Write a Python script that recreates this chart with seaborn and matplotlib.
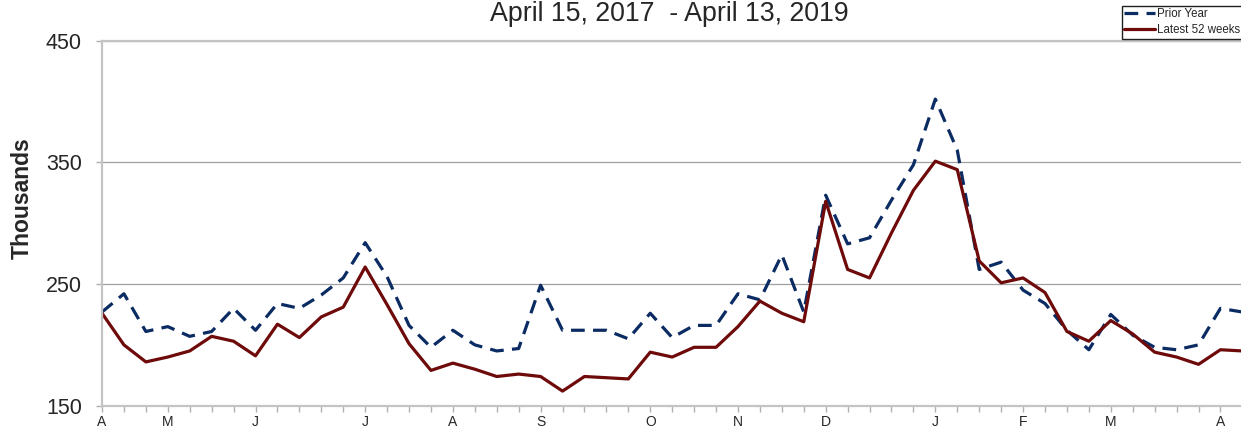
import matplotlib
matplotlib.use("Agg")
import matplotlib.pyplot as plt
import seaborn as sns
import pandas as pd
from matplotlib.ticker import FixedLocator

# ---- data (thousands), weekly ----
weeks = list(range(53))
prior_year = [227, 242, 211, 215, 207, 211, 230, 212, 234, 230, 241, 255, 284,
              256, 216, 198, 212, 200, 195, 197, 249, 212, 212, 212, 205, 226,
              206, 216, 216, 242, 237, 274, 227, 323, 283, 288, 319, 348, 402,
              360, 262, 268, 245, 234, 212, 196, 225, 208, 198, 196, 200, 230, 227]
latest_52 = [226, 200, 186, 190, 195, 207, 203, 191, 217, 206, 223, 231, 264,
             233, 201, 179, 185, 180, 174, 176, 174, 162, 174, 173, 172, 194,
             190, 198, 198, 215, 236, 226, 219, 318, 262, 255, 292, 327, 351,
             344, 269, 251, 255, 243, 211, 203, 220, 209, 194, 190, 184, 196, 195]
month_pos = [0, 3, 7, 12, 16, 20, 25, 29, 33, 38, 42, 46, 51]
month_labels = ["A", "M", "J", "J", "A", "S", "O", "N", "D", "J", "F", "M", "A"]
y_ticks = [150, 250, 350, 450]
title = "April 15, 2017  - April 13, 2019"

sns.set_style("white")
plt.rcParams["font.family"] = ["Liberation Sans", "DejaVu Sans"]

W, H = 1241, 429
fig = plt.figure(figsize=(W / 100, H / 100), dpi=100)
left_px, right_px, top_px, bottom_px = 102, 102 + 53 * 21.93, 40.7, 405.7
ax = fig.add_axes([left_px / W, 1 - bottom_px / H,
                   (right_px - left_px) / W, (bottom_px - top_px) / H])

df = pd.DataFrame({"week": weeks, "prior": prior_year, "latest": latest_52})

sns.lineplot(data=df, x="week", y="prior", ax=ax, color="#0b2b63",
             linewidth=2.3, linestyle=(0, (4.3, 2.6)), label="Prior Year")
sns.lineplot(data=df, x="week", y="latest", ax=ax, color="#6e0a0a",
             linewidth=2.3, label="Latest 52 weeks")

ax.set_xlim(0, 53)
ax.set_ylim(150, 450)
ax.set_yticks(y_ticks)
ax.set_yticklabels([str(v) for v in y_ticks], fontsize=15.5)
ax.set_xticks(month_pos)
ax.set_xticklabels(month_labels, fontsize=10)
ax.xaxis.set_minor_locator(FixedLocator(weeks))
ax.tick_params(axis="x", which="both", direction="out", length=4.5,
               width=1, color="#b0b0b0", pad=2, bottom=True)
ax.tick_params(axis="y", which="major", direction="out", length=4.5,
               width=1, color="#b0b0b0", pad=10, left=True)

ax.grid(axis="y", color="#a0a0a0", linewidth=0.9)
ax.grid(axis="x", visible=False)
for side in ["left", "bottom", "top"]:
    ax.spines[side].set_visible(True)
    ax.spines[side].set_color("#c4c4c4")
    ax.spines[side].set_linewidth(1.6)
ax.spines["right"].set_visible(False)

ax.set_xlabel("")
ax.set_ylabel("Thousands", fontsize=16.5, fontweight="bold")
ax.yaxis.label.set_va("center")
ax.yaxis.set_label_coords(22 / W, 1 - 198 / H, transform=fig.transFigure)

ax.set_title(title, fontsize=19.3, x=(669 - left_px) / (right_px - left_px),
             y=1 + (top_px - 21) / (bottom_px - top_px), pad=0)

leg = ax.legend(loc="upper left", bbox_to_anchor=(1121.5 / W, 1 - 6 / H),
                bbox_transform=fig.transFigure, fontsize=8.3, frameon=True,
                fancybox=False, edgecolor="#202020", framealpha=1,
                borderpad=0.2, labelspacing=0.35, handlelength=2.7,
                handletextpad=0.15, borderaxespad=0)
leg.get_frame().set_linewidth(1.0)

fig.savefig("out.png", dpi=100)
